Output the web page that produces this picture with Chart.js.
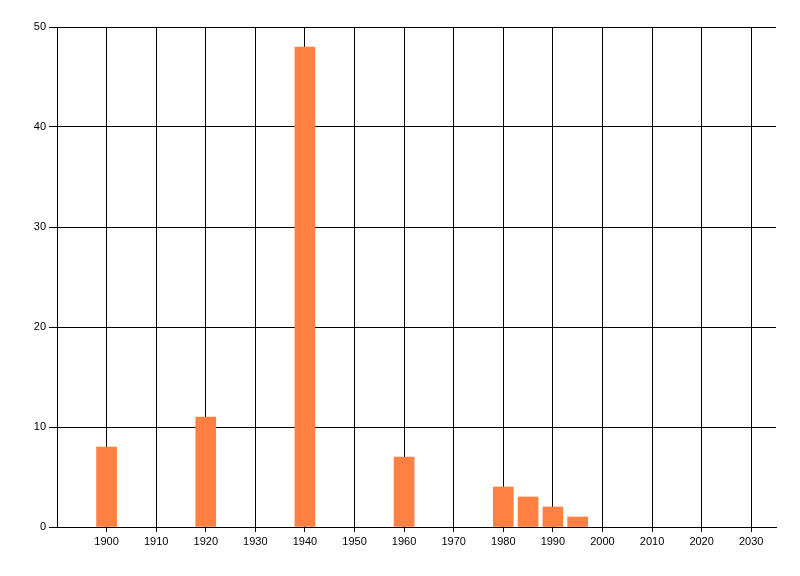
<!DOCTYPE html>
<html>
<head>
<meta charset="utf-8">
<script src="https://cdn.jsdelivr.net/npm/chart.js@4/dist/chart.umd.min.js"></script>
<style>
  html, body { margin: 0; padding: 0; background: #fff; }
  canvas { display: block; }
</style>
</head>
<body>
<canvas id="chart" width="800" height="576"></canvas>
<script>
// Data
const years = [1900, 1920, 1940, 1960, 1980, 1985, 1990, 1995];
const counts = [8, 11, 48, 7, 4, 3, 2, 1];
const xTicks = [1900, 1910, 1920, 1930, 1940, 1950, 1960, 1970, 1980, 1990, 2000, 2010, 2020, 2030];
const yTicks = [0, 10, 20, 30, 40, 50];

Chart.defaults.font.family = "'Liberation Sans', Arial, sans-serif";
Chart.defaults.font.size = 11;
Chart.defaults.color = '#000';

const ctx = document.getElementById('chart').getContext('2d');
new Chart(ctx, {
    type: 'bar',
    data: {
        datasets: [{
            data: years.map((y, i) => ({ x: y, y: counts[i] })),
            backgroundColor: '#FF8040',
            borderWidth: 0,
            barThickness: 20
        }]
    },
    options: {
        responsive: false,
        animation: false,
        layout: { padding: { top: 27, right: 24, left: 0, bottom: 0 } },
        plugins: { legend: { display: false }, tooltip: { enabled: false } },
        scales: {
            x: {
                type: 'linear',
                min: 1890,
                max: 2035,
                offset: false,
                afterBuildTicks: scale => { scale.ticks = xTicks.map(v => ({ value: v })); },
                afterFit: scale => { scale.height = 49; },
                grid: { color: '#000', tickLength: 5, tickColor: '#000', offset: false },
                border: { display: true, color: '#000' },
                ticks: { maxRotation: 0, autoSkip: false, padding: 3, callback: v => String(v) }
            },
            y: {
                min: 0,
                max: 50,
                afterBuildTicks: scale => { scale.ticks = yTicks.map(v => ({ value: v })); },
                afterFit: scale => { scale.width = 57; },
                grid: { color: '#000', tickLength: 8, tickColor: '#000' },
                border: { display: true, color: '#000' },
                ticks: { padding: 3 }
            }
        }
    }
});
</script>
</body>
</html>
